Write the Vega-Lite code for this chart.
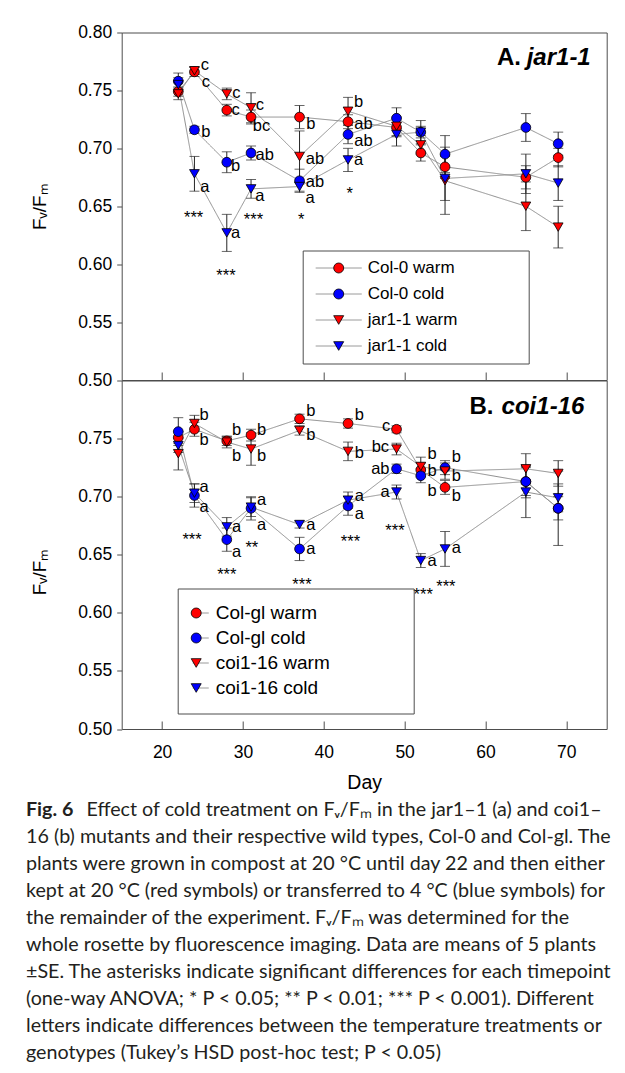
{
  "$schema": "https://vega.github.io/schema/vega-lite/v6.json",
  "autosize": {"type": "none"},
  "padding": {"left": 121.7, "top": 32.5, "right": 503.3, "bottom": 1040.5},
  "background": "white",
  "spacing": 0,
  "bounds": "flush",
  "config": {
    "font": "Liberation Sans",
    "view": {"stroke": "#4d4d4d", "strokeWidth": 1},
    "axis": {"domain": false, "grid": false, "labelFont": "Liberation Sans", "labelFontSize": 17.5, "labelColor": "#000000", "tickColor": "#4d4d4d", "titleFont": "Liberation Sans", "titleFontWeight": "normal", "titleColor": "#000000"},
    "text": {"font": "Liberation Sans", "color": "#000000"}
  },
  "datasets": {
    "a": [
      {"day": 22, "series": "Col-0 warm", "v": 0.749, "lo": 0.745, "hi": 0.753},
      {"day": 24, "series": "Col-0 warm", "v": 0.766, "lo": 0.762, "hi": 0.770},
      {"day": 28, "series": "Col-0 warm", "v": 0.733, "lo": 0.728, "hi": 0.738},
      {"day": 31, "series": "Col-0 warm", "v": 0.727, "lo": 0.721, "hi": 0.733},
      {"day": 37, "series": "Col-0 warm", "v": 0.727, "lo": 0.717, "hi": 0.737},
      {"day": 43, "series": "Col-0 warm", "v": 0.723, "lo": 0.717, "hi": 0.729},
      {"day": 49, "series": "Col-0 warm", "v": 0.718, "lo": 0.710, "hi": 0.726},
      {"day": 52, "series": "Col-0 warm", "v": 0.696, "lo": 0.689, "hi": 0.703},
      {"day": 55, "series": "Col-0 warm", "v": 0.684, "lo": 0.674, "hi": 0.694},
      {"day": 65, "series": "Col-0 warm", "v": 0.675, "lo": 0.665, "hi": 0.685},
      {"day": 69, "series": "Col-0 warm", "v": 0.692, "lo": 0.684, "hi": 0.700},
      {"day": 22, "series": "Col-0 cold", "v": 0.758, "lo": 0.751, "hi": 0.765},
      {"day": 24, "series": "Col-0 cold", "v": 0.716, "lo": 0.713, "hi": 0.719},
      {"day": 28, "series": "Col-0 cold", "v": 0.688, "lo": 0.679, "hi": 0.697},
      {"day": 31, "series": "Col-0 cold", "v": 0.696, "lo": 0.690, "hi": 0.702},
      {"day": 37, "series": "Col-0 cold", "v": 0.672, "lo": 0.662, "hi": 0.682},
      {"day": 43, "series": "Col-0 cold", "v": 0.712, "lo": 0.704, "hi": 0.720},
      {"day": 49, "series": "Col-0 cold", "v": 0.726, "lo": 0.717, "hi": 0.735},
      {"day": 52, "series": "Col-0 cold", "v": 0.714, "lo": 0.704, "hi": 0.724},
      {"day": 55, "series": "Col-0 cold", "v": 0.695, "lo": 0.679, "hi": 0.711},
      {"day": 65, "series": "Col-0 cold", "v": 0.718, "lo": 0.706, "hi": 0.730},
      {"day": 69, "series": "Col-0 cold", "v": 0.704, "lo": 0.694, "hi": 0.714},
      {"day": 22, "series": "jar1-1 warm", "v": 0.747, "lo": 0.742, "hi": 0.752},
      {"day": 24, "series": "jar1-1 warm", "v": 0.767, "lo": 0.764, "hi": 0.770},
      {"day": 28, "series": "jar1-1 warm", "v": 0.747, "lo": 0.742, "hi": 0.752},
      {"day": 31, "series": "jar1-1 warm", "v": 0.735, "lo": 0.722, "hi": 0.748},
      {"day": 37, "series": "jar1-1 warm", "v": 0.693, "lo": 0.671, "hi": 0.715},
      {"day": 43, "series": "jar1-1 warm", "v": 0.732, "lo": 0.720, "hi": 0.744},
      {"day": 49, "series": "jar1-1 warm", "v": 0.719, "lo": 0.711, "hi": 0.727},
      {"day": 52, "series": "jar1-1 warm", "v": 0.703, "lo": 0.695, "hi": 0.711},
      {"day": 55, "series": "jar1-1 warm", "v": 0.672, "lo": 0.643, "hi": 0.701},
      {"day": 65, "series": "jar1-1 warm", "v": 0.650, "lo": 0.629, "hi": 0.671},
      {"day": 69, "series": "jar1-1 warm", "v": 0.632, "lo": 0.614, "hi": 0.650},
      {"day": 22, "series": "jar1-1 cold", "v": 0.755, "lo": 0.749, "hi": 0.761},
      {"day": 24, "series": "jar1-1 cold", "v": 0.678, "lo": 0.663, "hi": 0.693},
      {"day": 28, "series": "jar1-1 cold", "v": 0.627, "lo": 0.611, "hi": 0.643},
      {"day": 31, "series": "jar1-1 cold", "v": 0.665, "lo": 0.657, "hi": 0.673},
      {"day": 37, "series": "jar1-1 cold", "v": 0.667, "lo": 0.663, "hi": 0.671},
      {"day": 43, "series": "jar1-1 cold", "v": 0.690, "lo": 0.680, "hi": 0.700},
      {"day": 49, "series": "jar1-1 cold", "v": 0.712, "lo": 0.702, "hi": 0.722},
      {"day": 52, "series": "jar1-1 cold", "v": 0.714, "lo": 0.709, "hi": 0.719},
      {"day": 55, "series": "jar1-1 cold", "v": 0.674, "lo": 0.655, "hi": 0.693},
      {"day": 65, "series": "jar1-1 cold", "v": 0.678, "lo": 0.661, "hi": 0.695},
      {"day": 69, "series": "jar1-1 cold", "v": 0.670, "lo": 0.655, "hi": 0.685}
    ],
    "b": [
      {"day": 22, "series": "Col-gl warm", "v": 0.751, "lo": 0.746, "hi": 0.756},
      {"day": 24, "series": "Col-gl warm", "v": 0.758, "lo": 0.752, "hi": 0.764},
      {"day": 28, "series": "Col-gl warm", "v": 0.748, "lo": 0.744, "hi": 0.752},
      {"day": 31, "series": "Col-gl warm", "v": 0.753, "lo": 0.748, "hi": 0.758},
      {"day": 37, "series": "Col-gl warm", "v": 0.767, "lo": 0.763, "hi": 0.771},
      {"day": 43, "series": "Col-gl warm", "v": 0.763, "lo": 0.759, "hi": 0.767},
      {"day": 49, "series": "Col-gl warm", "v": 0.758, "lo": 0.755, "hi": 0.761},
      {"day": 52, "series": "Col-gl warm", "v": 0.723, "lo": 0.717, "hi": 0.729},
      {"day": 55, "series": "Col-gl warm", "v": 0.708, "lo": 0.702, "hi": 0.714},
      {"day": 65, "series": "Col-gl warm", "v": 0.713, "lo": 0.699, "hi": 0.727},
      {"day": 69, "series": "Col-gl warm", "v": 0.690, "lo": 0.680, "hi": 0.700},
      {"day": 22, "series": "Col-gl cold", "v": 0.756, "lo": 0.744, "hi": 0.768},
      {"day": 24, "series": "Col-gl cold", "v": 0.701, "lo": 0.691, "hi": 0.711},
      {"day": 28, "series": "Col-gl cold", "v": 0.663, "lo": 0.653, "hi": 0.673},
      {"day": 31, "series": "Col-gl cold", "v": 0.690, "lo": 0.680, "hi": 0.700},
      {"day": 37, "series": "Col-gl cold", "v": 0.655, "lo": 0.645, "hi": 0.665},
      {"day": 43, "series": "Col-gl cold", "v": 0.692, "lo": 0.684, "hi": 0.700},
      {"day": 49, "series": "Col-gl cold", "v": 0.724, "lo": 0.720, "hi": 0.728},
      {"day": 52, "series": "Col-gl cold", "v": 0.718, "lo": 0.712, "hi": 0.724},
      {"day": 55, "series": "Col-gl cold", "v": 0.725, "lo": 0.719, "hi": 0.731},
      {"day": 65, "series": "Col-gl cold", "v": 0.713, "lo": 0.701, "hi": 0.725},
      {"day": 69, "series": "Col-gl cold", "v": 0.690, "lo": 0.658, "hi": 0.722},
      {"day": 22, "series": "coi1-16 warm", "v": 0.737, "lo": 0.723, "hi": 0.751},
      {"day": 24, "series": "coi1-16 warm", "v": 0.763, "lo": 0.756, "hi": 0.770},
      {"day": 28, "series": "coi1-16 warm", "v": 0.747, "lo": 0.742, "hi": 0.752},
      {"day": 31, "series": "coi1-16 warm", "v": 0.741, "lo": 0.727, "hi": 0.755},
      {"day": 37, "series": "coi1-16 warm", "v": 0.757, "lo": 0.753, "hi": 0.761},
      {"day": 43, "series": "coi1-16 warm", "v": 0.739, "lo": 0.731, "hi": 0.747},
      {"day": 49, "series": "coi1-16 warm", "v": 0.741, "lo": 0.736, "hi": 0.746},
      {"day": 52, "series": "coi1-16 warm", "v": 0.726, "lo": 0.718, "hi": 0.734},
      {"day": 55, "series": "coi1-16 warm", "v": 0.722, "lo": 0.715, "hi": 0.729},
      {"day": 65, "series": "coi1-16 warm", "v": 0.724, "lo": 0.711, "hi": 0.737},
      {"day": 69, "series": "coi1-16 warm", "v": 0.720, "lo": 0.709, "hi": 0.731},
      {"day": 22, "series": "coi1-16 cold", "v": 0.744, "lo": 0.738, "hi": 0.750},
      {"day": 24, "series": "coi1-16 cold", "v": 0.703, "lo": 0.695, "hi": 0.711},
      {"day": 28, "series": "coi1-16 cold", "v": 0.674, "lo": 0.666, "hi": 0.682},
      {"day": 31, "series": "coi1-16 cold", "v": 0.691, "lo": 0.683, "hi": 0.699},
      {"day": 37, "series": "coi1-16 cold", "v": 0.676, "lo": 0.673, "hi": 0.679},
      {"day": 43, "series": "coi1-16 cold", "v": 0.697, "lo": 0.690, "hi": 0.704},
      {"day": 49, "series": "coi1-16 cold", "v": 0.704, "lo": 0.698, "hi": 0.710},
      {"day": 52, "series": "coi1-16 cold", "v": 0.645, "lo": 0.639, "hi": 0.651},
      {"day": 55, "series": "coi1-16 cold", "v": 0.655, "lo": 0.640, "hi": 0.670},
      {"day": 65, "series": "coi1-16 cold", "v": 0.704, "lo": 0.682, "hi": 0.726},
      {"day": 69, "series": "coi1-16 cold", "v": 0.699, "lo": 0.687, "hi": 0.711}
    ],
    "la": [
      {"day": 25.3, "v": 0.772, "t": "c"},
      {"day": 25.4, "v": 0.757, "t": "c"},
      {"day": 25.4, "v": 0.714, "t": "b"},
      {"day": 25.3, "v": 0.667, "t": "a"},
      {"day": 29.2, "v": 0.748, "t": "c"},
      {"day": 29.1, "v": 0.733, "t": "c"},
      {"day": 29.1, "v": 0.685, "t": "b"},
      {"day": 29.1, "v": 0.627, "t": "a"},
      {"day": 32.1, "v": 0.737, "t": "c"},
      {"day": 32.3, "v": 0.719, "t": "bc"},
      {"day": 32.7, "v": 0.694, "t": "ab"},
      {"day": 32.1, "v": 0.659, "t": "a"},
      {"day": 38.4, "v": 0.721, "t": "b"},
      {"day": 38.9, "v": 0.691, "t": "ab"},
      {"day": 38.9, "v": 0.671, "t": "ab"},
      {"day": 38.3, "v": 0.657, "t": "a"},
      {"day": 44.3, "v": 0.740, "t": "b"},
      {"day": 44.9, "v": 0.7212, "t": "ab"},
      {"day": 44.9, "v": 0.7063, "t": "ab"},
      {"day": 44.3, "v": 0.690, "t": "a"}
    ],
    "sa": [
      {"day": 23.9, "v": 0.643, "t": "***"},
      {"day": 27.9, "v": 0.593, "t": "***"},
      {"day": 31.3, "v": 0.642, "t": "***"},
      {"day": 37.2, "v": 0.642, "t": "*"},
      {"day": 43.2, "v": 0.664, "t": "*"}
    ],
    "lb": [
      {"day": 25.2, "v": 0.770, "t": "b"},
      {"day": 25.2, "v": 0.749, "t": "b"},
      {"day": 25.2, "v": 0.708, "t": "a"},
      {"day": 25.2, "v": 0.691, "t": "a"},
      {"day": 29.2, "v": 0.757, "t": "b"},
      {"day": 29.2, "v": 0.735, "t": "b"},
      {"day": 29.2, "v": 0.674, "t": "a"},
      {"day": 29.2, "v": 0.652, "t": "a"},
      {"day": 32.3, "v": 0.757, "t": "b"},
      {"day": 32.3, "v": 0.735, "t": "b"},
      {"day": 32.3, "v": 0.697, "t": "a"},
      {"day": 32.3, "v": 0.676, "t": "a"},
      {"day": 38.4, "v": 0.774, "t": "b"},
      {"day": 38.4, "v": 0.753, "t": "b"},
      {"day": 38.4, "v": 0.676, "t": "a"},
      {"day": 38.4, "v": 0.655, "t": "a"},
      {"day": 44.4, "v": 0.770, "t": "b"},
      {"day": 44.4, "v": 0.738, "t": "b"},
      {"day": 44.4, "v": 0.701, "t": "a"},
      {"day": 44.4, "v": 0.685, "t": "a"},
      {"day": 47.7, "v": 0.761, "t": "c"},
      {"day": 47.0, "v": 0.743, "t": "bc"},
      {"day": 47.0, "v": 0.724, "t": "ab"},
      {"day": 47.6, "v": 0.704, "t": "a"},
      {"day": 53.4, "v": 0.737, "t": "b"},
      {"day": 53.4, "v": 0.722, "t": "b"},
      {"day": 53.4, "v": 0.705, "t": "b"},
      {"day": 53.4, "v": 0.645, "t": "a"},
      {"day": 56.4, "v": 0.734, "t": "b"},
      {"day": 56.4, "v": 0.718, "t": "b"},
      {"day": 56.4, "v": 0.701, "t": "b"},
      {"day": 56.4, "v": 0.656, "t": "a"}
    ],
    "sb": [
      {"day": 23.7, "v": 0.666, "t": "***"},
      {"day": 28.0, "v": 0.636, "t": "***"},
      {"day": 31.1, "v": 0.659, "t": "**"},
      {"day": 37.3, "v": 0.627, "t": "***"},
      {"day": 43.3, "v": 0.664, "t": "***"},
      {"day": 48.8, "v": 0.674, "t": "***"},
      {"day": 52.3, "v": 0.619, "t": "***"},
      {"day": 55.1, "v": 0.626, "t": "***"}
    ]
  },
  "resolve": {"scale": {"color": "independent", "shape": "independent", "strokeDash": "independent"}, "legend": {"color": "independent", "shape": "independent", "strokeDash": "independent"}},
  "vconcat": [
    {
      "width": 485,
      "height": 347.5,
      "layer": [
        {
          "data": {"name": "a"},
          "mark": {"type": "line", "color": "#8f8f8f", "strokeWidth": 1},
          "encoding": {
            "x": {"field": "day", "type": "quantitative", "scale": {"domain": [15, 75], "nice": false, "zero": false}, "axis": {"title": null, "labels": false, "tickSize": -8, "values": [20, 30, 40, 50, 60, 70]}},
            "y": {"field": "v", "type": "quantitative", "scale": {"domain": [0.5, 0.8], "nice": false, "zero": false}, "axis": {"title": "Fᵥ/Fₘ", "values": [0.5, 0.55, 0.6, 0.65, 0.7, 0.75, 0.8], "format": ".2f", "tickSize": 5, "labelPadding": 5, "titlePadding": 28, "titleFontSize": 19}},
            "strokeDash": {"field": "series", "type": "nominal", "scale": {"domain": ["jar1-1 cold", "jar1-1 warm", "Col-0 cold", "Col-0 warm"], "range": [[1, 0], [1, 0], [1, 0], [1, 0]]},
              "legend": {"orient": "none", "legendX": 181, "legendY": 218, "title": null, "padding": 9, "symbolType": "stroke", "symbolSize": 2116, "symbolStrokeColor": "#8f8f8f", "symbolStrokeWidth": 1, "symbolOffset": 3.5, "clipHeight": 17, "labelFontSize": 17, "labelExpr": "''", "rowPadding": 8}}
          }
        },
        {
          "data": {"name": "a"},
          "mark": {"type": "rule", "color": "#262626", "strokeWidth": 1},
          "encoding": {"x": {"field": "day", "type": "quantitative"}, "y": {"field": "lo", "type": "quantitative"}, "y2": {"field": "hi"}}
        },
        {
          "data": {"name": "a"},
          "mark": {"type": "tick", "orient": "horizontal", "color": "#262626", "size": 10, "thickness": 1},
          "encoding": {"x": {"field": "day", "type": "quantitative"}, "y": {"field": "lo", "type": "quantitative"}}
        },
        {
          "data": {"name": "a"},
          "mark": {"type": "tick", "orient": "horizontal", "color": "#262626", "size": 10, "thickness": 1},
          "encoding": {"x": {"field": "day", "type": "quantitative"}, "y": {"field": "hi", "type": "quantitative"}}
        },
        {
          "data": {"name": "a"},
          "mark": {"type": "point", "filled": true, "size": 95, "stroke": "#000000", "strokeWidth": 0.8, "opacity": 1},
          "encoding": {
            "x": {"field": "day", "type": "quantitative"},
            "y": {"field": "v", "type": "quantitative"},
            "color": {"field": "series", "type": "nominal", "scale": {"domain": ["Col-0 warm", "Col-0 cold", "jar1-1 warm", "jar1-1 cold"], "range": ["#ff0000", "#0000ff", "#ff0000", "#0000ff"]},
              "legend": {"orient": "none", "legendX": 181, "legendY": 218, "title": null, "strokeColor": "#4d4d4d", "padding": 9, "symbolOffset": 18.5, "labelOffset": 20.5, "labelFontSize": 17, "labelFont": "Liberation Sans", "labelColor": "#000000", "labelLimit": 400, "symbolSize": 100, "symbolStrokeColor": "#000000", "symbolStrokeWidth": 0.8, "rowPadding": 8, "labelExpr": "datum.label + '\u00a0\u00a0\u00a0\u00a0\u00a0\u00a0\u00a0\u00a0\u00a0\u00a0\u00a0\u00a0\u00a0\u200b'"}},
            "shape": {"field": "series", "type": "nominal", "scale": {"domain": ["Col-0 warm", "Col-0 cold", "jar1-1 warm", "jar1-1 cold"], "range": ["circle", "circle", "triangle-down", "triangle-down"]},
              "legend": {"orient": "none", "legendX": 181, "legendY": 218, "title": null, "strokeColor": "#4d4d4d", "padding": 9, "symbolOffset": 18.5, "labelOffset": 20.5, "labelFontSize": 17, "labelFont": "Liberation Sans", "labelColor": "#000000", "labelLimit": 400, "symbolSize": 100, "symbolStrokeColor": "#000000", "symbolStrokeWidth": 0.8, "rowPadding": 8, "labelExpr": "datum.label + '\u00a0\u00a0\u00a0\u00a0\u00a0\u00a0\u00a0\u00a0\u00a0\u00a0\u00a0\u00a0\u00a0\u200b'"}}
          }
        },
        {
          "data": {"name": "la"},
          "mark": {"type": "text", "fontSize": 16.5, "align": "center", "baseline": "middle"},
          "encoding": {"x": {"field": "day", "type": "quantitative"}, "y": {"field": "v", "type": "quantitative"}, "text": {"field": "t"}}
        },
        {
          "data": {"name": "sa"},
          "mark": {"type": "text", "fontSize": 16.5, "align": "center", "baseline": "middle", "dy": 4},
          "encoding": {"x": {"field": "day", "type": "quantitative"}, "y": {"field": "v", "type": "quantitative"}, "text": {"field": "t"}}
        },
        {
          "data": {"values": [{"day": 64.4, "v": 0.778, "t": "A."}]},
          "mark": {"type": "text", "fontSize": 24, "fontWeight": "bold", "align": "right", "baseline": "middle"},
          "encoding": {"x": {"field": "day", "type": "quantitative"}, "y": {"field": "v", "type": "quantitative"}, "text": {"field": "t"}}
        },
        {
          "data": {"values": [{"day": 65.1, "v": 0.778, "t": "jar1-1"}]},
          "mark": {"type": "text", "fontSize": 24, "fontWeight": "bold", "fontStyle": "italic", "align": "left", "baseline": "middle"},
          "encoding": {"x": {"field": "day", "type": "quantitative"}, "y": {"field": "v", "type": "quantitative"}, "text": {"field": "t"}}
        }
      ]
    },
    {
      "width": 485,
      "height": 348.5,
      "title": {
        "text": "Fig. 6",
        "subtitle": [
          "\u200b\u00a0\u00a0\u00a0\u00a0\u00a0\u00a0\u00a0\u00a0\u00a0\u00a0\u00a0\u00a0Effect of cold treatment on Fᵥ/Fₘ in the jar1–1 (a) and coi1–",
          "16 (b) mutants and their respective wild types, Col-0 and Col-gl. The",
          "plants were grown in compost at 20 °C until day 22 and then either",
          "kept at 20 °C (red symbols) or transferred to 4 °C (blue symbols) for",
          "the remainder of the experiment. Fᵥ/Fₘ was determined for the",
          "whole rosette by fluorescence imaging. Data are means of 5 plants",
          "±SE. The asterisks indicate significant differences for each timepoint",
          "(one-way ANOVA; * P < 0.05; ** P < 0.01; *** P < 0.001). Different",
          "letters indicate differences between the temperature treatments or",
          "genotypes (Tukey’s HSD post-hoc test; P < 0.05)"
        ],
        "orient": "bottom",
        "anchor": "start",
        "frame": "group",
        "dx": -95.7,
        "offset": 8,
        "limit": 1000,
        "font": "Lato",
        "fontSize": 19.7,
        "fontWeight": "bold",
        "color": "#231f20",
        "subtitleFont": "Lato",
        "subtitleFontSize": 19.7,
        "subtitleFontWeight": "normal",
        "subtitleColor": "#231f20",
        "subtitleLineHeight": 27,
        "subtitlePadding": -19.7
      },
      "layer": [
        {
          "data": {"name": "b"},
          "mark": {"type": "line", "color": "#8f8f8f", "strokeWidth": 1},
          "encoding": {
            "x": {"field": "day", "type": "quantitative", "scale": {"domain": [15, 75], "nice": false, "zero": false}, "axis": {"title": "Day", "tickSize": -8, "labelPadding": 22, "titleFontSize": 19.5, "titlePadding": 13, "values": [20, 30, 40, 50, 60, 70]}},
            "y": {"field": "v", "type": "quantitative", "scale": {"domain": [0.5, 0.8], "nice": false, "zero": false}, "axis": {"title": "Fᵥ/Fₘ", "values": [0.5, 0.55, 0.6, 0.65, 0.7, 0.75], "format": ".2f", "tickSize": 5, "labelPadding": 5, "titlePadding": 28, "titleFontSize": 19, "titleY": 191}},
            "strokeDash": {"field": "series", "type": "nominal", "scale": {"domain": ["coi1-16 cold", "coi1-16 warm", "Col-gl cold", "Col-gl warm"], "range": [[1, 0], [1, 0], [1, 0], [1, 0]]},
              "legend": {"orient": "none", "legendX": 56, "legendY": 208, "title": null, "padding": 15, "symbolType": "stroke", "symbolSize": 900, "symbolStrokeColor": "#8f8f8f", "symbolStrokeWidth": 1, "symbolOffset": -14.5, "clipHeight": 19, "labelFontSize": 19, "labelExpr": "''", "rowPadding": 5}}
          }
        },
        {
          "data": {"name": "b"},
          "mark": {"type": "rule", "color": "#262626", "strokeWidth": 1},
          "encoding": {"x": {"field": "day", "type": "quantitative"}, "y": {"field": "lo", "type": "quantitative"}, "y2": {"field": "hi"}}
        },
        {
          "data": {"name": "b"},
          "mark": {"type": "tick", "orient": "horizontal", "color": "#262626", "size": 10, "thickness": 1},
          "encoding": {"x": {"field": "day", "type": "quantitative"}, "y": {"field": "lo", "type": "quantitative"}}
        },
        {
          "data": {"name": "b"},
          "mark": {"type": "tick", "orient": "horizontal", "color": "#262626", "size": 10, "thickness": 1},
          "encoding": {"x": {"field": "day", "type": "quantitative"}, "y": {"field": "hi", "type": "quantitative"}}
        },
        {
          "data": {"name": "b"},
          "mark": {"type": "point", "filled": true, "size": 95, "stroke": "#000000", "strokeWidth": 0.8, "opacity": 1},
          "encoding": {
            "x": {"field": "day", "type": "quantitative"},
            "y": {"field": "v", "type": "quantitative"},
            "color": {"field": "series", "type": "nominal", "scale": {"domain": ["Col-gl warm", "Col-gl cold", "coi1-16 warm", "coi1-16 cold"], "range": ["#ff0000", "#0000ff", "#ff0000", "#0000ff"]},
              "legend": {"orient": "none", "legendX": 56, "legendY": 208, "title": null, "strokeColor": "#4d4d4d", "padding": 15, "symbolOffset": -6, "labelOffset": 10, "labelFontSize": 19, "labelFont": "Liberation Sans", "labelColor": "#000000", "labelLimit": 400, "symbolSize": 100, "symbolStrokeColor": "#000000", "symbolStrokeWidth": 0.8, "rowPadding": 5, "labelExpr": "datum.label + '\u00a0\u00a0\u00a0\u00a0\u00a0\u00a0\u00a0\u00a0\u00a0\u00a0\u00a0\u00a0\u00a0\u200b'"}},
            "shape": {"field": "series", "type": "nominal", "scale": {"domain": ["Col-gl warm", "Col-gl cold", "coi1-16 warm", "coi1-16 cold"], "range": ["circle", "circle", "triangle-down", "triangle-down"]},
              "legend": {"orient": "none", "legendX": 56, "legendY": 208, "title": null, "strokeColor": "#4d4d4d", "padding": 15, "symbolOffset": -6, "labelOffset": 10, "labelFontSize": 19, "labelFont": "Liberation Sans", "labelColor": "#000000", "labelLimit": 400, "symbolSize": 100, "symbolStrokeColor": "#000000", "symbolStrokeWidth": 0.8, "rowPadding": 5, "labelExpr": "datum.label + '\u00a0\u00a0\u00a0\u00a0\u00a0\u00a0\u00a0\u00a0\u00a0\u00a0\u00a0\u00a0\u00a0\u200b'"}}
          }
        },
        {
          "data": {"name": "lb"},
          "mark": {"type": "text", "fontSize": 16.5, "align": "center", "baseline": "middle"},
          "encoding": {"x": {"field": "day", "type": "quantitative"}, "y": {"field": "v", "type": "quantitative"}, "text": {"field": "t"}}
        },
        {
          "data": {"name": "sb"},
          "mark": {"type": "text", "fontSize": 16.5, "align": "center", "baseline": "middle", "dy": 4},
          "encoding": {"x": {"field": "day", "type": "quantitative"}, "y": {"field": "v", "type": "quantitative"}, "text": {"field": "t"}}
        },
        {
          "data": {"values": [{"day": 61.0, "v": 0.7776, "t": "B."}]},
          "mark": {"type": "text", "fontSize": 24, "fontWeight": "bold", "align": "right", "baseline": "middle"},
          "encoding": {"x": {"field": "day", "type": "quantitative"}, "y": {"field": "v", "type": "quantitative"}, "text": {"field": "t"}}
        },
        {
          "data": {"values": [{"day": 62.0, "v": 0.7776, "t": "coi1-16"}]},
          "mark": {"type": "text", "fontSize": 24, "fontWeight": "bold", "fontStyle": "italic", "align": "left", "baseline": "middle"},
          "encoding": {"x": {"field": "day", "type": "quantitative"}, "y": {"field": "v", "type": "quantitative"}, "text": {"field": "t"}}
        }
      ]
    }
  ]
}
